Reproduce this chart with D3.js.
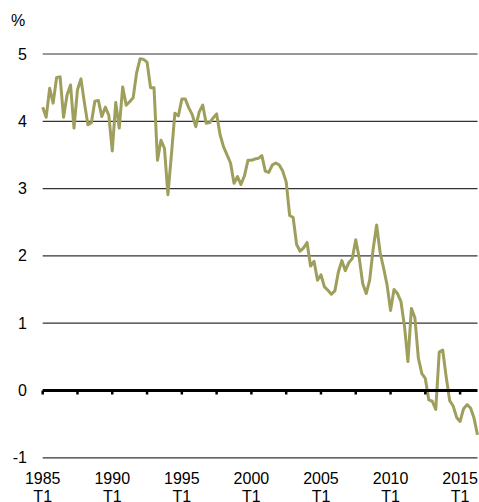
<!DOCTYPE html>
<html>
<head>
<meta charset="utf-8">
<script src="https://cdn.jsdelivr.net/npm/d3@7"></script>
<style>
  html, body { margin: 0; padding: 0; background: #fff; }
  svg { display: block; font-family: "Liberation Sans", Arial, sans-serif; }
</style>
</head>
<body>
<div id="chart"></div>
<script>
// quarterly series, 1985 T1 .. 2016 T2
const startYear = 1985;
const values = [
  4.21, 4.06, 4.49, 4.27, 4.65, 4.66, 4.06, 4.39, 4.54, 3.90,
  4.47, 4.63, 4.27, 3.95, 3.98, 4.30, 4.31, 4.07, 4.21, 4.09,
  3.56, 4.28, 3.90, 4.51, 4.24, 4.29, 4.35, 4.72, 4.93, 4.92,
  4.88, 4.50, 4.50, 3.42, 3.72, 3.60, 2.91, 3.50, 4.12, 4.08,
  4.33, 4.33, 4.20, 4.10, 3.92, 4.14, 4.24, 3.97, 3.98, 4.05,
  4.11, 3.80, 3.62, 3.50, 3.38, 3.08, 3.18, 3.06, 3.19, 3.42,
  3.42, 3.44, 3.45, 3.49, 3.26, 3.24, 3.35, 3.38, 3.35, 3.26,
  3.10, 2.60, 2.57, 2.17, 2.07, 2.12, 2.20, 1.85, 1.92, 1.64,
  1.72, 1.54, 1.49, 1.43, 1.48, 1.76, 1.93, 1.78, 1.90, 1.96,
  2.24, 1.97, 1.59, 1.44, 1.64, 2.10, 2.46, 2.05, 1.82, 1.57,
  1.19, 1.50, 1.44, 1.32, 0.96, 0.43, 1.22, 1.08, 0.48, 0.25,
  0.18, -0.14, -0.16, -0.28, 0.57, 0.60, 0.20, -0.15, -0.23, -0.40,
  -0.46, -0.27, -0.21, -0.26, -0.41, -0.66
];
const yTicks = [5, 4, 3, 2, 1, 0, -1];
const xTickEvery = 10;   // quarters between tick marks
const xLabelEvery = 20;  // quarters between labels
const quarterLabel = "T1";

const width = 479, height = 502;

const svg = d3.select("#chart").append("svg")
    .attr("width", width)
    .attr("height", height);

const xScale = d3.scaleLinear().domain([0, values.length - 1]).range([42.7, 477.5]);
const yScale = d3.scaleLinear().domain([-1, 5]).range([457.8, 54]);

// gridlines
svg.append("g").attr("class", "grid")
    .selectAll("line")
    .data(yTicks.filter(d => d !== 0))
    .join("line")
    .attr("x1", xScale.range()[0])
    .attr("x2", xScale.range()[1])
    .attr("y1", d => yScale(d))
    .attr("y2", d => yScale(d))
    .attr("stroke", "#333")
    .attr("stroke-width", 1.2);

// y labels
svg.append("g").attr("class", "yLabels")
    .selectAll("text")
    .data(yTicks)
    .join("text")
    .attr("x", 27)
    .attr("y", d => yScale(d) + 5.5)
    .attr("text-anchor", "end")
    .attr("font-size", "16px")
    .attr("fill", "#000")
    .text(d => d);

svg.append("text")
    .attr("x", 11)
    .attr("y", 26)
    .attr("font-size", "16px")
    .attr("fill", "#000")
    .text("%");

// series line
const line = d3.line()
    .x((d, i) => xScale(i))
    .y(d => yScale(d));

svg.append("path")
    .datum(values)
    .attr("fill", "none")
    .attr("stroke", "#9e9f5c")
    .attr("stroke-width", 3)
    .attr("stroke-linejoin", "round")
    .attr("d", line);

// zero axis with tick marks
const y0 = yScale(0);
svg.append("line")
    .attr("x1", xScale.range()[0])
    .attr("x2", xScale.range()[1])
    .attr("y1", y0)
    .attr("y2", y0)
    .attr("stroke", "#000")
    .attr("stroke-width", 3);

const tickIdx = d3.range(0, values.length, xTickEvery);
svg.append("g").attr("class", "xTicks")
    .selectAll("line")
    .data(tickIdx)
    .join("line")
    .attr("x1", d => xScale(d))
    .attr("x2", d => xScale(d))
    .attr("y1", y0)
    .attr("y2", y0 + 4)
    .attr("stroke", "#000")
    .attr("stroke-width", 2.5);

// x labels
const labelIdx = d3.range(0, values.length, xLabelEvery);
const xl = svg.append("g").attr("class", "xLabels")
    .selectAll("text")
    .data(labelIdx)
    .join("text")
    .attr("text-anchor", "middle")
    .attr("font-size", "16px")
    .attr("fill", "#000");
xl.append("tspan")
    .attr("x", d => xScale(d))
    .attr("y", 484)
    .text(d => startYear + d / 4);
xl.append("tspan")
    .attr("x", d => xScale(d))
    .attr("y", 502)
    .text(quarterLabel);
</script>
</body>
</html>
